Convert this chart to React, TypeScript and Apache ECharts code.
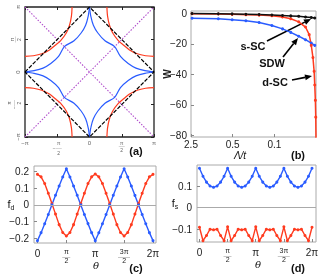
import React, { useEffect, useRef } from "react";
import * as echarts from "echarts";

// ---------- Panel (a): k-space curves, coordinates in units of π (first-quadrant branch, others by symmetry)
const aBlueBranch: number[][] = [[0, 1], [0.02, 0.86], [0.06, 0.72], [0.13, 0.6], [0.24, 0.48], [0.39, 0.39], [0.48, 0.24], [0.6, 0.13], [0.72, 0.06], [0.86, 0.02], [1, 0]];
const aRedBranch: number[][] = [[0.27, 1], [0.28, 0.86], [0.31, 0.72], [0.36, 0.6], [0.45, 0.48], [0.52, 0.42], [0.62, 0.34], [0.74, 0.28], [0.87, 0.25], [1, 0.24]];
const aDiamond: number[][] = [[-1, 0], [0, 1], [1, 0], [0, -1], [-1, 0]];
const aDiagUp: number[][] = [[-1, -1], [1, 1]];
const aDiagDown: number[][] = [[-1, 1], [1, -1]];

// ---------- Panel (b): flow of W vs Λ/t
const bLambda = [2.4, 0.87, 0.51, 0.3, 0.18, 0.11, 0.073, 0.053, 0.039, 0.03, 0.024, 0.021];
const bSSC = [-0.1, -0.3, -0.4, -0.6, -0.8, -1.1, -1.4, -1.7, -2.0, -2.4, -2.8, -3.1];
const bSDW = [-3.2, -3.6, -4.2, -4.9, -6.0, -8.0, -10.2, -12.5, -15.0, -17.3, -19.5, -21.0];
const bLambdaD = [2.4, 0.87, 0.51, 0.3, 0.18, 0.11, 0.073, 0.053, 0.039, 0.03, 0.026, 0.024, 0.0225, 0.0215, 0.021, 0.0205, 0.0202, 0.02];
const bDSC = [-0.3, -0.5, -0.7, -0.9, -1.2, -1.6, -2.4, -3.6, -5.6, -9.0, -14, -21, -29, -38, -47, -57, -68, -82];
const bTickLambda = [2.5, 0.5, 0.1, 0.02];
const bTicksW = [0, -20, -40, -60, -80];

// ---------- Panels (c),(d): θ in sixteenths of π
const theta16 = [0, 1, 2, 3, 4, 5, 6, 7, 8, 9, 10, 11, 12, 13, 14, 15, 16, 17, 18, 19, 20, 21, 22, 23, 24, 25, 26, 27, 28, 29, 30, 31, 32];
const cBlue = [-0.214, -0.166, -0.113, -0.057, 0.001, 0.058, 0.113, 0.167, 0.216, 0.167, 0.113, 0.058, 0.0, -0.057, -0.112, -0.166, -0.215, -0.167, -0.113, -0.057, 0.0, 0.058, 0.113, 0.167, 0.216, 0.167, 0.113, 0.057, 0.0, -0.057, -0.113, -0.166, -0.214];
const cRed = [0.183, 0.168, 0.128, 0.07, 0.008, -0.055, -0.118, -0.165, -0.186, -0.165, -0.118, -0.055, 0.008, 0.07, 0.128, 0.168, 0.185, 0.168, 0.128, 0.07, 0.008, -0.055, -0.118, -0.165, -0.186, -0.165, -0.118, -0.055, 0.008, 0.07, 0.128, 0.168, 0.183];
const dBlue = [0.182, 0.145, 0.118, 0.1, 0.094, 0.1, 0.118, 0.145, 0.182, 0.145, 0.118, 0.1, 0.094, 0.1, 0.118, 0.145, 0.182, 0.145, 0.118, 0.1, 0.094, 0.1, 0.118, 0.145, 0.182, 0.145, 0.118, 0.1, 0.094, 0.1, 0.118, 0.145, 0.182];
const dRed = [-0.09, -0.152, -0.128, -0.099, -0.102, -0.099, -0.128, -0.152, -0.088, -0.152, -0.128, -0.099, -0.102, -0.099, -0.128, -0.152, -0.088, -0.152, -0.128, -0.099, -0.102, -0.099, -0.128, -0.152, -0.088, -0.152, -0.128, -0.099, -0.102, -0.099, -0.128, -0.152, -0.09];
const cTicksY = [-0.2, -0.1, 0, 0.1, 0.2];
const dTicksY = [-0.1, 0, 0.1];
const thetaTicks = [0, 0.5, 1, 1.5, 2];

const RED = "#ff3b1f";
const BLUE = "#2a5cff";
const FONT = "Liberation Sans";

const minus = (v: number) => String(v).replace("-", "\u2212");
const bx = (l: number) => Math.log(2.5 / l) / Math.log(5);

const fracRich = (fs: number, col: string) => ({
  n: { fontSize: fs, lineHeight: fs, fontFamily: FONT, color: col },
  m: { fontSize: fs, lineHeight: fs, fontFamily: FONT, color: col },
  r: { fontSize: Math.max(3, Math.round(fs * 0.55)), lineHeight: 2, fontFamily: FONT, color: col },
  d: { fontSize: fs, lineHeight: fs, fontFamily: FONT, color: col },
  t: { fontFamily: FONT, color: col },
});

const aLabel = (v: number) => {
  if (v === -1) return "{t|\u2212\u03c0}";
  if (v === 1) return "{t|\u03c0}";
  if (v === 0) return "{t|0}";
  if (v === 0.5) return "{n|\u03c0}\n{r|\u2014\u2014}\n{d|2}";
  return "{n|  \u03c0}\n{m|\u2212}{r|\u2014\u2014}\n{d|  2}";
};
const thetaLabel = (v: number) => {
  if (v === 0) return "0";
  if (v === 1) return "\u03c0";
  if (v === 2) return "2\u03c0";
  if (v === 0.5) return "{n|\u03c0}\n{r|\u2014\u2014}\n{d|2}";
  return "{n|3\u03c0}\n{r|\u2014\u2014\u2014}\n{d|2}";
};

function arrow(x1: number, y1: number, x2: number, y2: number) {
  const ang = Math.atan2(y2 - y1, x2 - x1);
  const L = 7, W = 3;
  const bxp = x2 - L * Math.cos(ang), byp = y2 - L * Math.sin(ang);
  const px = -Math.sin(ang) * W, py = Math.cos(ang) * W;
  return [
    { type: "line", shape: { x1, y1, x2: bxp, y2: byp }, style: { stroke: "#000", lineWidth: 1.6 } },
    { type: "polygon", shape: { points: [[x2, y2], [bxp + px, byp + py], [bxp - px, byp - py]] }, style: { fill: "#000" } },
  ];
}

export default function App() {
  const ref = useRef<HTMLDivElement>(null);
  useEffect(() => {
    if (!ref.current) return;
    const chart = echarts.init(ref.current, null, { renderer: "svg" });
    const quads = [[1, 1], [-1, 1], [-1, -1], [1, -1]];
    const labelBase = { fontFamily: FONT, fontSize: 10, color: "#222" };
    const noLine = { show: false, onZero: false };
    const option: any = {
      animation: false,
      grid: [
        { left: 25, top: 7, width: 129, height: 130, show: true, borderColor: "#222", borderWidth: 1.3, backgroundColor: "transparent" },
        { left: 191, top: 11, width: 125, height: 126, show: true, borderColor: "#aaa", borderWidth: 1 },
        { left: 34, top: 166, width: 122, height: 77, show: true, borderColor: "#aaa", borderWidth: 1 },
        { left: 197, top: 165, width: 119, height: 77, show: true, borderColor: "#aaa", borderWidth: 1 },
      ],
      xAxis: [
        { gridIndex: 0, type: "value", min: -1, max: 1, interval: 0.5, axisLine: noLine, splitLine: { show: false },
          axisTick: { inside: true, length: 3, lineStyle: { color: "#222" } },
          axisLabel: { formatter: aLabel, fontSize: 6, color: "#666", margin: 3, rich: fracRich(5, "#666") } },
        { gridIndex: 0, type: "value", position: "top", min: -1, max: 1, interval: 0.5, axisLine: noLine, splitLine: { show: false },
          axisTick: { inside: true, length: 3, lineStyle: { color: "#222" } }, axisLabel: { show: false } },
        { gridIndex: 1, type: "value", min: 0, max: 3, axisLine: noLine, splitLine: { show: false },
          axisTick: { inside: true, length: 3, lineStyle: { color: "#888" }, customValues: bTickLambda.map(bx) },
          axisLabel: { ...labelBase, margin: 2, customValues: bTickLambda.map(bx), formatter: (v: number) => String(bTickLambda[Math.round(v)]) } },
        { gridIndex: 2, type: "value", min: -0.06, max: 2.052, axisLine: noLine, splitLine: { show: false },
          axisTick: { inside: true, length: 3, lineStyle: { color: "#888" }, customValues: thetaTicks },
          axisLabel: { ...labelBase, margin: 5, customValues: thetaTicks, formatter: thetaLabel, rich: fracRich(7, "#222") } },
        { gridIndex: 3, type: "value", min: -0.044, max: 2.071, axisLine: noLine, splitLine: { show: false },
          axisTick: { inside: true, length: 3, lineStyle: { color: "#888" }, customValues: thetaTicks },
          axisLabel: { ...labelBase, margin: 5, customValues: thetaTicks, formatter: thetaLabel, rich: fracRich(7, "#222") } },
      ],
      yAxis: [
        { gridIndex: 0, type: "value", min: -1, max: 1, interval: 0.5, axisLine: noLine, splitLine: { show: false },
          axisTick: { inside: true, length: 3, lineStyle: { color: "#222" } },
          axisLabel: { formatter: aLabel, fontSize: 6, color: "#666", rotate: 90, margin: 4, rich: fracRich(5, "#666") } },
        { gridIndex: 0, type: "value", position: "right", min: -1, max: 1, interval: 0.5, axisLine: noLine, splitLine: { show: false },
          axisTick: { inside: true, length: 3, lineStyle: { color: "#222" } }, axisLabel: { show: false } },
        { gridIndex: 1, type: "value", min: -81, max: 1.5, axisLine: noLine, splitLine: { show: false },
          axisTick: { inside: true, length: 3, lineStyle: { color: "#888" }, customValues: bTicksW },
          axisLabel: { ...labelBase, margin: 4, customValues: bTicksW, formatter: minus } },
        { gridIndex: 2, type: "value", min: -0.228, max: 0.233, axisLine: noLine, splitLine: { show: false },
          axisTick: { inside: true, length: 3, lineStyle: { color: "#888" }, customValues: cTicksY },
          axisLabel: { ...labelBase, margin: 5, customValues: cTicksY, formatter: minus } },
        { gridIndex: 3, type: "value", min: -0.158, max: 0.197, axisLine: noLine, splitLine: { show: false },
          axisTick: { inside: true, length: 3, lineStyle: { color: "#888" }, customValues: dTicksY },
          axisLabel: { ...labelBase, margin: 5, customValues: dTicksY, formatter: minus } },
      ],
      series: [] as any[],
      graphic: [] as any[],
    };

    const line = (xi: number, yi: number, data: number[][], color: string, extra: any = {}) => ({
      type: "line", xAxisIndex: xi, yAxisIndex: yi, data, silent: true, showSymbol: false, clip: true,
      lineStyle: { color, width: 1.2 }, itemStyle: { color }, ...extra,
    });

    // (a)
    option.series.push(line(0, 0, aDiagUp, "#b04ccc", { lineStyle: { color: "#b04ccc", width: 1.1, type: [1.5, 1.5] } }));
    option.series.push(line(0, 0, aDiagDown, "#b04ccc", { lineStyle: { color: "#b04ccc", width: 1.1, type: [1.5, 1.5] } }));
    quads.forEach(([sx, sy]) => {
      option.series.push(line(0, 0, aRedBranch.map(([x, y]) => [sx * x, sy * y]), RED, { smooth: 0.3 }));
      option.series.push(line(0, 0, aBlueBranch.map(([x, y]) => [sx * x, sy * y]), BLUE, { smooth: 0.3 }));
    });
    option.series.push(line(0, 0, aDiamond, "#000", { lineStyle: { color: "#000", width: 1.2, type: [4, 1.5] } }));

    // (b)
    const sym = { showSymbol: true, symbol: "circle", symbolSize: 3 };
    option.series.push(line(2, 2, bLambda.map((l, i) => [bx(l), bSDW[i]]), BLUE, { ...sym, lineStyle: { color: BLUE, width: 1.5 } }));
    option.series.push(line(2, 2, bLambdaD.map((l, i) => [bx(l), bDSC[i]]), RED, { ...sym, lineStyle: { color: RED, width: 1.5 } }));
    option.series.push(line(2, 2, bLambda.map((l, i) => [bx(l), bSSC[i]]), "#111", { ...sym, lineStyle: { color: "#111", width: 1.5 } }));

    // (c)
    const zeroLine = { silent: true, symbol: "none", label: { show: false }, lineStyle: { color: "#aaa", width: 1, type: "solid" }, data: [{ yAxis: 0 }] };
    option.series.push(line(3, 3, theta16.map((t, i) => [t / 16, cRed[i]]), RED, { ...sym, lineStyle: { color: RED, width: 1.4 }, markLine: zeroLine }));
    option.series.push(line(3, 3, theta16.map((t, i) => [t / 16, cBlue[i]]), BLUE, { ...sym, lineStyle: { color: BLUE, width: 1.4 } }));

    // (d)
    option.series.push(line(4, 4, theta16.map((t, i) => [t / 16, dBlue[i]]), BLUE, { ...sym, lineStyle: { color: BLUE, width: 1.4 }, markLine: zeroLine }));
    option.series.push(line(4, 4, theta16.map((t, i) => [t / 16, dRed[i]]), RED, { ...sym, lineStyle: { color: RED, width: 1.4 } }));

    const txt = (x: number, y: number, text: string, style: any = {}) => ({
      type: "text", x, y, silent: true,
      style: { text, fontFamily: FONT, fontSize: 11, fill: "#111", align: "center", verticalAlign: "middle", ...style },
    });
    const sub = (s: string) => ({ text: `{a|f}{b|${s}}`, rich: { a: { fontSize: 11, fontFamily: FONT }, b: { fontSize: 7, fontFamily: FONT, padding: [7, 0, 0, 0] } } });
    option.graphic = [
      txt(136, 151, "(a)", { fontWeight: "bold", fontSize: 11 }),
      txt(298, 155, "(b)", { fontWeight: "bold", fontSize: 11 }),
      txt(136, 268, "(c)", { fontWeight: "bold", fontSize: 11 }),
      txt(298, 268, "(d)", { fontWeight: "bold", fontSize: 11 }),
      txt(240, 155, "\u039b/t", { fontSize: 10, fontStyle: "italic" }),
      txt(96, 265, "\u03b8", { fontSize: 10, fontStyle: "italic", fontFamily: "DejaVu Serif" }),
      txt(258, 264, "\u03b8", { fontSize: 10, fontStyle: "italic", fontFamily: "DejaVu Serif" }),
      { type: "text", x: 167, y: 74, rotation: Math.PI / 2, silent: true,
        style: { text: "W", fontFamily: FONT, fontSize: 10, fontWeight: "bold", fill: "#222", align: "center", verticalAlign: "middle" } },
      txt(11, 204, "", sub("d")),
      txt(175, 203, "", sub("s")),
      txt(253, 46, "s-SC", { fontWeight: "bold", fontSize: 11 }),
      txt(272, 63, "SDW", { fontWeight: "bold", fontSize: 11 }),
      txt(275, 82, "d-SC", { fontWeight: "bold", fontSize: 11 }),
      ...arrow(267, 41, 311, 19),
      ...arrow(283, 57, 298, 38),
      ...arrow(292, 80, 312, 76),
    ];

    chart.setOption(option);
    return () => chart.dispose();
  }, []);
  return <div ref={ref} style={{ position: "fixed", left: 0, top: 0, width: 333, height: 280 }} />;
}
